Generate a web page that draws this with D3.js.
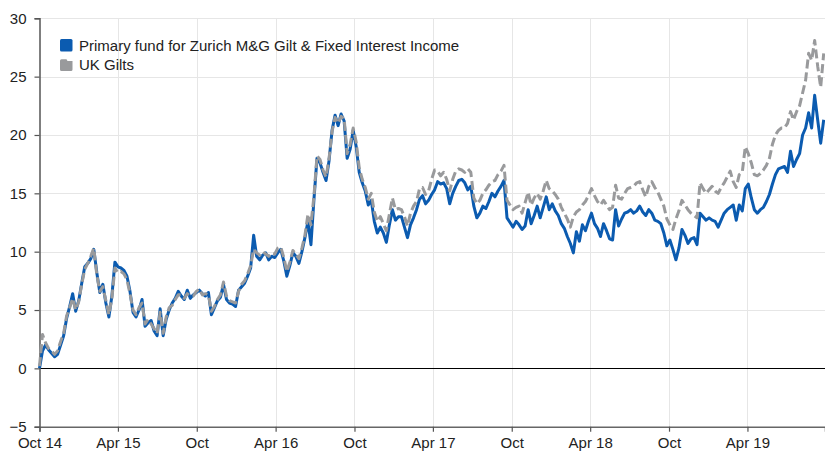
<!DOCTYPE html>
<html><head><meta charset="utf-8">
<script src="https://cdn.jsdelivr.net/npm/d3@7"></script>
<style>
html,body{margin:0;padding:0;background:#fff;}
svg{display:block;font-family:Arial,"Liberation Sans",sans-serif;}
</style></head>
<body><svg id="chart" width="825" height="452"></svg>
<script>
// ---- data ----
const seriesNames = ["Primary fund for Zurich M&G Gilt & Fixed Interest Income", "UK Gilts"];
const startDate = "2014-10-01";   // first weekly observation
const stepDays = 7;
const fund = [
0.0,1.5,2.0,1.6,1.3,1.0,1.2,2.0,2.8,4.3,
5.3,6.4,4.9,5.8,7.3,8.7,9.0,9.4,10.2,8.2,
6.5,7.2,5.6,4.4,6.2,9.1,8.7,8.6,8.4,7.9,
6.6,4.8,4.4,5.0,5.9,3.6,3.9,4.1,3.2,2.8,
5.1,2.8,4.2,5.0,5.6,6.0,6.6,6.2,5.9,6.7,
6.0,6.3,6.5,6.7,6.4,6.2,6.5,4.6,5.2,5.8,
6.1,7.2,5.9,5.6,5.5,5.3,6.7,7.0,7.3,7.9,
8.6,11.4,9.6,9.3,9.7,9.9,9.3,9.6,9.5,9.9,
10.2,9.2,7.9,8.8,9.9,9.6,9.0,10.0,11.2,12.6,
10.6,14.5,18.0,17.6,16.8,16.1,17.8,20.4,21.7,20.8,
21.8,21.2,18.0,18.8,20.4,19.0,16.8,15.9,15.2,14.0,
14.4,12.6,11.6,12.1,11.6,10.8,12.3,13.6,12.7,13.0,
13.0,12.1,11.2,12.3,12.9,13.6,14.5,14.8,14.1,14.4,
14.9,15.3,16.0,15.8,15.9,15.4,14.1,15.0,15.6,16.1,
16.2,15.9,15.3,15.6,13.9,12.9,13.3,13.9,13.7,14.3,
15.0,14.7,15.2,15.6,16.1,12.9,12.5,12.1,12.6,12.3,
11.9,12.2,13.6,12.4,13.1,13.9,12.9,13.8,14.7,13.6,
14.1,13.5,13.1,12.4,12.0,11.3,10.7,9.9,11.7,10.9,
12.3,11.8,12.6,13.3,12.4,12.0,11.3,12.4,11.8,11.1,
11.0,13.6,12.2,12.8,13.3,13.4,13.6,13.3,13.5,13.9,
13.4,13.1,13.6,13.3,12.7,12.6,12.4,11.6,10.5,11.0,
10.2,9.3,10.3,11.9,11.4,10.7,11.1,11.2,10.6,13.3,
13.0,12.7,12.9,12.7,12.6,12.1,12.7,13.3,13.6,13.8,
14.0,12.7,14.0,13.5,15.4,15.8,14.6,13.6,13.3,13.6,
13.8,14.3,14.9,15.8,16.6,17.1,17.2,17.3,16.8,18.6,
17.3,17.9,18.4,20.0,20.6,21.9,20.6,23.4,21.3,19.3,21.3
];
const gilts = [
0.2,2.9,2.2,1.7,1.5,1.2,1.5,2.3,3.0,4.5,
5.2,6.0,5.0,5.7,7.2,8.5,9.0,9.6,10.3,8.0,
6.6,7.0,5.8,4.6,6.0,8.6,8.2,8.3,8.1,7.6,
6.4,5.0,4.6,5.2,5.6,3.8,4.2,3.8,3.4,3.0,
4.8,3.0,4.4,5.2,5.4,5.9,6.3,6.3,6.0,6.4,
6.2,6.2,6.6,6.8,6.3,6.4,6.3,4.9,5.3,5.9,
6.3,7.4,6.2,5.8,5.7,5.6,6.6,7.2,7.5,8.1,
8.8,10.2,9.9,9.7,10.0,9.8,9.6,9.9,9.8,10.3,
10.4,9.5,8.3,9.1,10.1,9.8,9.4,10.3,11.4,13.2,
12.3,14.8,18.2,17.9,17.0,16.4,18.0,20.3,21.5,21.0,
21.6,21.4,18.4,19.2,20.6,19.4,17.2,16.2,15.5,14.5,
15.0,13.4,12.6,13.0,12.4,11.8,13.2,14.6,13.6,13.7,
13.6,13.0,12.2,13.3,13.9,14.3,15.4,15.5,14.9,15.2,
16.2,17.0,16.9,16.5,16.8,16.2,15.2,16.2,16.9,17.1,
17.0,16.8,17.1,16.8,14.6,14.1,14.4,15.0,15.3,15.7,
16.0,16.1,16.6,16.9,17.4,14.4,14.0,13.6,13.8,13.9,
13.3,14.2,15.1,14.0,14.6,15.0,14.5,15.2,16.1,15.4,
15.2,14.9,14.5,13.8,13.3,12.8,12.1,13.0,13.4,13.6,
14.0,14.3,14.8,15.4,14.8,14.3,14.0,14.4,14.0,13.6,
13.8,15.7,14.6,14.5,15.0,15.4,15.5,15.6,15.9,16.0,
15.3,14.7,15.6,16.0,15.5,15.1,14.5,13.9,12.8,12.3,
11.9,12.8,13.5,14.4,14.0,13.6,13.3,13.1,12.9,15.9,
15.4,15.0,15.3,15.6,15.2,15.0,15.5,15.9,16.4,16.9,
16.0,15.5,16.6,16.8,19.0,18.4,17.6,16.6,16.5,16.7,
17.0,17.4,18.0,19.2,20.0,20.4,20.6,20.6,21.0,22.0,
21.3,22.0,22.5,23.6,24.7,27.0,26.4,28.1,25.9,24.1,27.0
];
const xTickDates = ["2014-10-01","2015-04-01","2015-10-01","2016-04-01","2016-10-01","2017-04-01","2017-10-01","2018-04-01","2018-10-01","2019-04-01"];
const xTickLabels = ["Oct 14","Apr 15","Oct","Apr 16","Oct","Apr 17","Oct","Apr 18","Oct","Apr 19"];
const yTicks = [-5,0,5,10,15,20,25,30];
const xDomain = ["2014-10-01","2019-09-28"];
const yDomain = [-5,30];

// ---- drawing ----
(function () {
const parse = d3.utcParse("%Y-%m-%d");
const t0 = parse(startDate);
const dates = fund.map((_, i) => d3.utcDay.offset(t0, i * stepDays));

const svg = d3.select("#chart");
const mLeft = 39.5, mRight = 825, mTop = 18.3, mBottom = 426.7;
const x = d3.scaleUtc().domain(xDomain.map(parse)).range([mLeft, mRight]);
const y = d3.scaleLinear().domain(yDomain).range([mBottom, mTop]);

const blue = "#0b5bb0", grey = "#999a9c";
const font = "Arial, 'Liberation Sans', sans-serif";
const fs = 15;

// gridlines
svg.append("g").selectAll("line").data(yTicks.filter(v => v > yDomain[0] && v !== 0))
  .join("line").attr("x1", mLeft).attr("x2", mRight)
  .attr("y1", d => Math.round(y(d)) + 0.5).attr("y2", d => Math.round(y(d)) + 0.5)
  .attr("stroke", "#e6e6e6").attr("stroke-width", 1);
svg.append("g").selectAll("line").data(xTickDates.slice(1))
  .join("line").attr("y1", mTop).attr("y2", mBottom)
  .attr("x1", d => Math.round(x(parse(d))) + 0.5).attr("x2", d => Math.round(x(parse(d))) + 0.5)
  .attr("stroke", "#e6e6e6").attr("stroke-width", 1);

// zero line
svg.append("line").attr("x1", mLeft).attr("x2", mRight)
  .attr("y1", Math.round(y(0)) + 0.5).attr("y2", Math.round(y(0)) + 0.5)
  .attr("stroke", "#000").attr("stroke-width", 1.2);

// axes
const yAxis = d3.axisLeft(y).tickValues(yTicks).tickSize(5).tickPadding(8).tickFormat(d3.format("d"));
const gy = svg.append("g").attr("transform", `translate(${mLeft},0)`).call(yAxis);
gy.select(".domain").attr("stroke", "#555").attr("stroke-width", 1.5);
gy.selectAll(".tick line").attr("stroke", "#555").attr("stroke-width", 1.2);
gy.selectAll(".tick text").attr("font-size", fs).attr("fill", "#222").attr("font-family", font);

const xAxis = d3.axisBottom(x).tickValues(xTickDates.map(parse)).tickSize(5).tickPadding(6)
  .tickFormat((d, i) => xTickLabels[i]);
const gx = svg.append("g").attr("transform", `translate(0,${mBottom})`).call(xAxis);
gx.select(".domain").attr("stroke", "#666").attr("stroke-width", 1.5);
gx.selectAll(".tick line").attr("stroke", "#555").attr("stroke-width", 1.2);
gx.selectAll(".tick text").attr("font-size", fs).attr("fill", "#222").attr("font-family", font);

// lines
const line = d3.line().x((d, i) => x(dates[i])).y(d => y(d));
svg.append("path").datum(fund).attr("d", line).attr("fill", "none")
  .attr("stroke", blue).attr("stroke-width", 3).attr("stroke-linejoin", "round");
svg.append("path").datum(gilts).attr("d", line).attr("fill", "none")
  .attr("stroke", grey).attr("stroke-width", 3).attr("stroke-linejoin", "round")
  .attr("stroke-dasharray", "9,4");

// legend
const lg = svg.append("g").attr("font-size", fs).attr("font-family", font);
lg.append("rect").attr("x", 60).attr("y", 39).attr("width", 12.5).attr("height", 12.5).attr("rx", 1.5).attr("fill", blue);
lg.append("text").attr("x", 79).attr("y", 51.3).text(seriesNames[0]).attr("fill", "#222");
lg.append("path").attr("d", "M61.5,59.3 H66.5 L67.5,61 H72.5 V69.5 Q72.5,71 71,71 H61.5 Q60,71 60,69.5 V60.8 Q60,59.3 61.5,59.3 Z").attr("fill", grey);
lg.append("text").attr("x", 79).attr("y", 70.3).text(seriesNames[1]).attr("fill", "#222");
})();
</script>
</body></html>
